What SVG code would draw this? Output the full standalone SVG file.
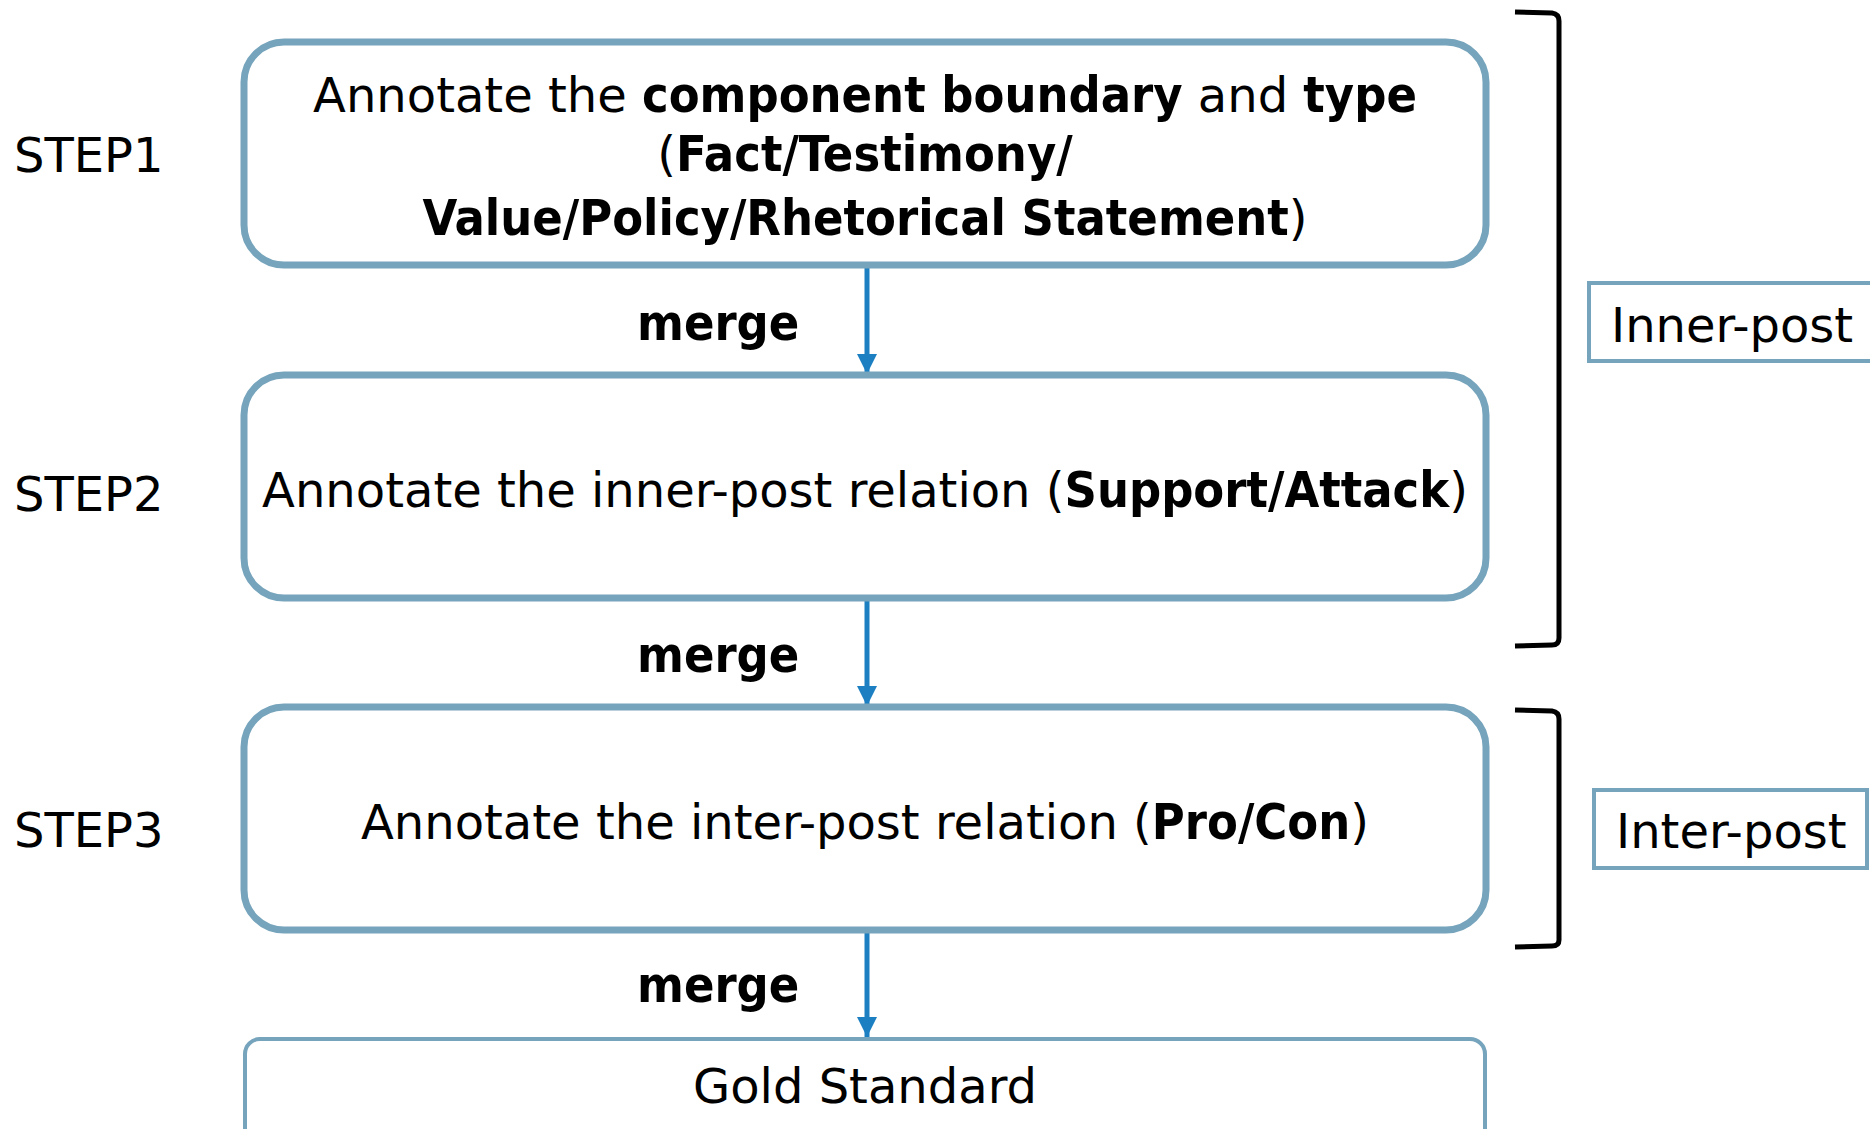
<svg xmlns="http://www.w3.org/2000/svg" width="1870" height="1129" viewBox="0 0 1870 1129">
<defs>
<style>
.reg{font-family:"DejaVu Sans","Liberation Sans",sans-serif;font-size:48px;fill:#000}
.b{font-family:"DejaVu Sans Condensed","DejaVu Sans",sans-serif;font-weight:bold;font-size:50px}
.box{fill:#fff;stroke:#76a4bc;stroke-width:7}
.thin{fill:#fff;stroke:#76a4bc;stroke-width:4}
.br{fill:none;stroke:#000;stroke-width:5}
.arr{stroke:#1b7fc2;stroke-width:5;fill:none}
</style>
<marker id="ah" markerUnits="userSpaceOnUse" markerWidth="20" markerHeight="20" refX="20" refY="10" orient="auto" viewBox="0 0 20 20">
<path d="M0,0 L20,10 L0,20 Z" fill="#1b7fc2"/>
</marker>
</defs>
<rect width="1870" height="1129" fill="#fff"/>

<g id="labels">
<text class="reg" x="14" y="172">STEP1</text>
<text class="reg" x="14" y="511">STEP2</text>
<text class="reg" x="14" y="847">STEP3</text>
</g>

<g id="connectors">
<line class="arr" x1="867" y1="266" x2="867" y2="374" marker-end="url(#ah)"/>
<line class="arr" x1="867" y1="598" x2="867" y2="706" marker-end="url(#ah)"/>
<line class="arr" x1="867" y1="930" x2="867" y2="1037" marker-end="url(#ah)"/>
<text class="reg b" x="637" y="340">merge</text>
<text class="reg b" x="637" y="672">merge</text>
<text class="reg b" x="637" y="1002">merge</text>
</g>

<g id="step1">
<rect class="box" x="244" y="42" width="1242" height="223" rx="40"/>
<text class="reg" x="865" y="112" text-anchor="middle">Annotate the <tspan class="b">component boundary</tspan> and <tspan class="b">type</tspan></text>
<text class="reg" x="865" y="171" text-anchor="middle">(<tspan class="b">Fact/Testimony/</tspan></text>
<text class="reg" x="865" y="235" text-anchor="middle"><tspan class="b">Value/Policy/Rhetorical Statement</tspan>)</text>
</g>

<g id="step2">
<rect class="box" x="244" y="375" width="1242" height="223" rx="40"/>
<text class="reg" x="865" y="507" text-anchor="middle">Annotate the inner-post relation (<tspan class="b">Support/Attack</tspan>)</text>
</g>

<g id="step3">
<rect class="box" x="244" y="707" width="1242" height="223" rx="40"/>
<text class="reg" x="865" y="839" text-anchor="middle">Annotate the inter-post relation (<tspan class="b">Pro/Con</tspan>)</text>
</g>

<g id="gold">
<rect class="thin" x="245" y="1039" width="1240" height="110" rx="15"/>
<text class="reg" x="865" y="1103" text-anchor="middle">Gold Standard</text>
</g>

<g id="inner-bracket">
<path class="br" d="M1515,12 L1552,13 Q1559,14 1559,21 L1559,638 Q1559,645 1552,645 L1515,646"/>
</g>
<g id="inner-post">
<rect class="thin" x="1589" y="283" width="290" height="78"/>
<text class="reg" x="1611" y="342">Inner-post</text>
</g>

<g id="inter-bracket">
<path class="br" d="M1515,710 L1552,711 Q1559,712 1559,719 L1559,940 Q1559,946 1552,946 L1515,947"/>
</g>
<g id="inter-post">
<rect class="thin" x="1594" y="790" width="273" height="78"/>
<text class="reg" x="1616" y="848">Inter-post</text>
</g>
</svg>
